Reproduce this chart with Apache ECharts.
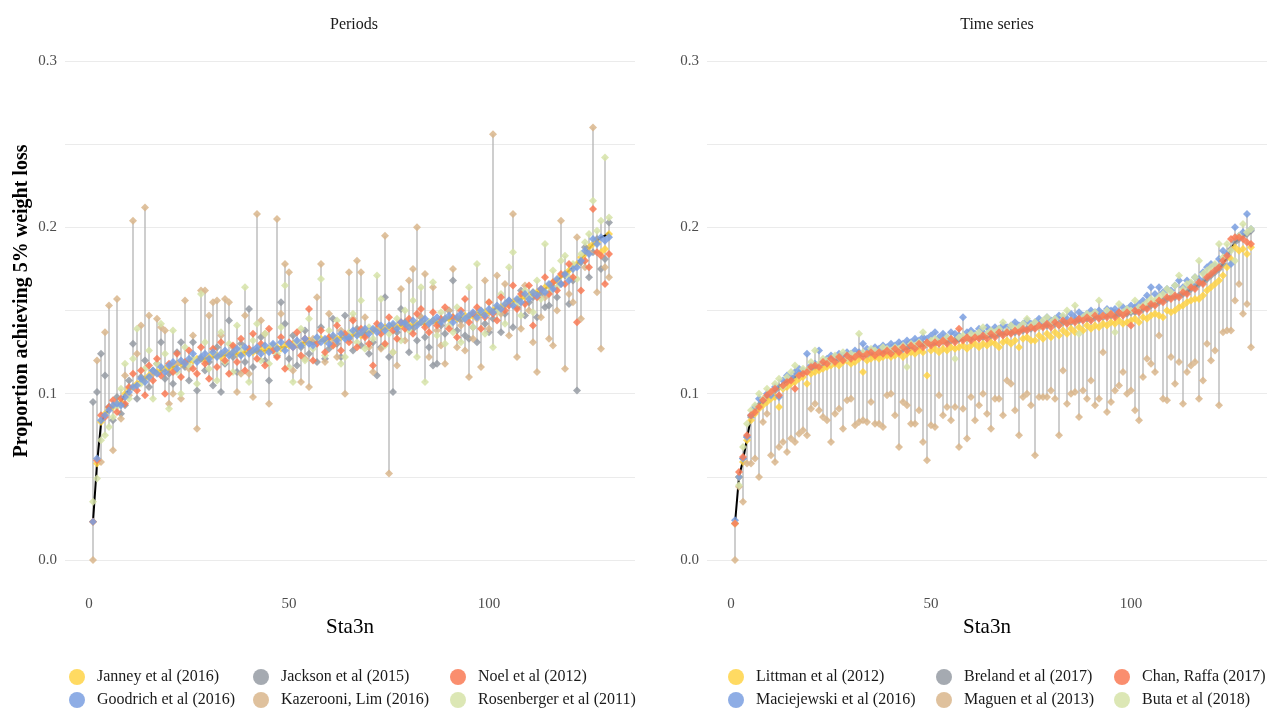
<!DOCTYPE html>
<html><head><meta charset="utf-8">
<script src="https://cdn.jsdelivr.net/npm/echarts@6/dist/echarts.min.js"></script>
<style>html,body{margin:0;padding:0;background:#fff}#c{width:1267px;height:708px}</style>
</head><body><div id="c"></div>
<script>
// ---------- DATA ----------
const stations = [];
for (let i = 1; i <= 130; i++) stations.push(i);
const xTickLabels = [0, 50, 100];
const yTickLabels = [0, 0.1, 0.2, 0.3];
const yGridValues = [0, 0.05, 0.1, 0.15, 0.2, 0.25, 0.3];
const panelTitles = ['Periods', 'Time series'];
const xAxisTitle = 'Sta3n';
const yAxisTitle = 'Proportion achieving 5% weight loss';

const periodsNames = ['Janney et al (2016)', 'Goodrich et al (2016)', 'Jackson et al (2015)', 'Kazerooni, Lim (2016)', 'Noel et al (2012)', 'Rosenberger et al (2011)'];
const timeNames = ['Littman et al (2012)', 'Maciejewski et al (2016)', 'Breland et al (2017)', 'Maguen et al (2013)', 'Chan, Raffa (2017)', 'Buta et al (2018)'];

// Periods panel
const periodsRef = [
0.023,0.058,0.082,0.088,0.090,0.092,0.093,0.095,0.100,0.102,
0.104,0.106,0.108,0.109,0.111,0.112,0.113,0.114,0.114,0.115,
0.116,0.117,0.118,0.118,0.119,0.120,0.120,0.121,0.121,0.122,
0.122,0.123,0.123,0.123,0.124,0.124,0.124,0.124,0.125,0.125,
0.125,0.126,0.126,0.126,0.127,0.127,0.128,0.128,0.128,0.129,
0.129,0.130,0.130,0.131,0.131,0.131,0.132,0.132,0.132,0.133,
0.133,0.133,0.134,0.134,0.135,0.135,0.136,0.136,0.137,0.137,
0.138,0.138,0.139,0.139,0.140,0.140,0.140,0.141,0.141,0.141,
0.141,0.142,0.142,0.142,0.143,0.143,0.143,0.144,0.144,0.145,
0.145,0.145,0.146,0.146,0.146,0.147,0.147,0.148,0.148,0.149,
0.150,0.151,0.152,0.153,0.154,0.155,0.156,0.157,0.158,0.159,
0.160,0.161,0.162,0.163,0.165,0.166,0.168,0.170,0.172,0.174,
0.176,0.178,0.181,0.184,0.187,0.190,0.192,0.194,0.195,0.197];
const janney2016 = [
0.023,0.058,0.083,0.088,0.091,0.092,0.094,0.095,0.100,0.103,
0.104,0.106,0.107,0.109,0.111,0.113,0.113,0.114,0.115,0.115,
0.116,0.118,0.118,0.117,0.119,0.120,0.121,0.121,0.120,0.122,
0.123,0.123,0.122,0.124,0.124,0.125,0.124,0.124,0.125,0.126,
0.125,0.126,0.127,0.126,0.127,0.128,0.128,0.127,0.129,0.129,
0.130,0.130,0.129,0.131,0.132,0.131,0.132,0.133,0.132,0.133,
0.134,0.133,0.134,0.135,0.135,0.136,0.136,0.135,0.137,0.138,
0.138,0.139,0.139,0.140,0.140,0.141,0.140,0.141,0.142,0.141,
0.142,0.142,0.143,0.142,0.143,0.144,0.143,0.144,0.145,0.145,
0.146,0.145,0.146,0.147,0.146,0.147,0.148,0.148,0.149,0.149,
0.150,0.152,0.152,0.153,0.155,0.155,0.156,0.158,0.158,0.159,
0.161,0.161,0.162,0.164,0.165,0.167,0.168,0.171,0.172,0.174,
0.177,0.178,0.182,0.184,0.188,0.190,0.191,0.185,0.187,0.196];
const goodrich2016 = [
0.023,0.061,0.084,0.087,0.090,0.093,0.094,0.093,0.098,0.101,
0.104,0.105,0.109,0.107,0.110,0.114,0.112,0.116,0.113,0.117,
0.119,0.115,0.120,0.118,0.121,0.124,0.119,0.122,0.124,0.121,
0.125,0.122,0.124,0.126,0.123,0.125,0.127,0.123,0.128,0.124,
0.126,0.128,0.124,0.129,0.125,0.130,0.127,0.131,0.126,0.130,
0.128,0.132,0.129,0.133,0.130,0.129,0.134,0.131,0.133,0.130,
0.135,0.132,0.136,0.133,0.134,0.138,0.135,0.137,0.139,0.136,
0.139,0.137,0.141,0.138,0.141,0.142,0.139,0.143,0.142,0.140,
0.144,0.141,0.143,0.145,0.142,0.144,0.146,0.143,0.145,0.147,
0.143,0.146,0.148,0.145,0.147,0.149,0.146,0.150,0.147,0.151,
0.149,0.153,0.151,0.154,0.156,0.153,0.157,0.155,0.160,0.157,
0.161,0.159,0.163,0.161,0.166,0.163,0.169,0.166,0.172,0.168,
0.175,0.176,0.180,0.186,0.184,0.193,0.190,0.194,0.192,0.194];
const jackson2015 = [
0.095,0.101,0.124,0.111,0.092,0.084,0.098,0.088,0.093,0.108,
0.130,0.097,0.110,0.120,0.104,0.114,0.118,0.131,0.109,0.112,
0.106,0.125,0.131,0.116,0.108,0.131,0.102,0.121,0.114,0.119,
0.105,0.128,0.101,0.118,0.144,0.122,0.113,0.130,0.119,0.151,
0.116,0.126,0.134,0.120,0.108,0.129,0.123,0.155,0.142,0.121,
0.135,0.117,0.128,0.138,0.124,0.131,0.119,0.140,0.121,0.127,
0.145,0.130,0.122,0.147,0.133,0.126,0.139,0.129,0.135,0.124,
0.131,0.111,0.128,0.158,0.122,0.101,0.137,0.151,0.143,0.125,
0.139,0.132,0.146,0.134,0.128,0.117,0.118,0.141,0.136,0.150,
0.168,0.138,0.144,0.135,0.133,0.140,0.131,0.149,0.142,0.137,
0.145,0.151,0.137,0.148,0.156,0.140,0.152,0.162,0.147,0.155,
0.158,0.146,0.160,0.152,0.153,0.164,0.158,0.166,0.171,0.154,
0.168,0.102,0.179,0.188,0.170,0.185,0.193,0.175,0.181,0.203];
const kazerooniLim2016 = [
0.000,0.120,0.059,0.137,0.153,0.066,0.157,0.085,0.111,0.099,
0.204,0.124,0.141,0.212,0.147,0.112,0.145,0.140,0.138,0.094,
0.100,0.118,0.097,0.156,0.115,0.135,0.079,0.162,0.162,0.147,
0.155,0.156,0.135,0.157,0.155,0.128,0.101,0.112,0.147,0.112,
0.098,0.208,0.144,0.136,0.094,0.126,0.205,0.148,0.178,0.173,
0.114,0.130,0.107,0.121,0.104,0.133,0.158,0.178,0.119,0.148,
0.131,0.122,0.138,0.100,0.173,0.145,0.180,0.173,0.146,0.128,
0.113,0.139,0.127,0.195,0.052,0.125,0.117,0.163,0.132,0.168,
0.175,0.200,0.146,0.172,0.122,0.164,0.138,0.129,0.118,0.150,
0.175,0.128,0.141,0.126,0.110,0.133,0.145,0.116,0.168,0.139,
0.256,0.171,0.148,0.166,0.135,0.208,0.122,0.139,0.165,0.150,
0.131,0.113,0.146,0.158,0.133,0.129,0.150,0.204,0.115,0.160,
0.155,0.194,0.145,0.176,0.185,0.260,0.161,0.127,0.176,0.170];
const noel2012 = [
0.023,0.060,0.087,0.086,0.092,0.096,0.089,0.097,0.094,0.104,
0.112,0.102,0.114,0.099,0.117,0.108,0.121,0.111,0.100,0.118,
0.113,0.124,0.110,0.119,0.126,0.115,0.112,0.128,0.118,0.109,
0.127,0.116,0.131,0.120,0.112,0.129,0.119,0.133,0.114,0.127,
0.136,0.121,0.130,0.117,0.139,0.126,0.122,0.134,0.115,0.131,
0.128,0.137,0.123,0.133,0.151,0.120,0.130,0.138,0.125,0.134,
0.129,0.141,0.126,0.136,0.131,0.144,0.128,0.139,0.134,0.130,
0.117,0.142,0.136,0.130,0.146,0.138,0.133,0.143,0.139,0.145,
0.136,0.148,0.151,0.140,0.137,0.149,0.141,0.145,0.152,0.139,
0.146,0.134,0.150,0.157,0.143,0.148,0.152,0.139,0.146,0.155,
0.148,0.144,0.158,0.150,0.153,0.165,0.151,0.160,0.154,0.165,
0.141,0.158,0.163,0.170,0.160,0.167,0.162,0.172,0.166,0.178,
0.170,0.143,0.162,0.180,0.176,0.211,0.185,0.183,0.166,0.184];
const rosenberger2011 = [
0.035,0.049,0.072,0.075,0.080,0.086,0.092,0.103,0.118,0.097,
0.121,0.139,0.106,0.115,0.126,0.097,0.118,0.142,0.124,0.091,
0.138,0.113,0.100,0.128,0.117,0.121,0.106,0.160,0.131,0.115,
0.125,0.108,0.137,0.119,0.130,0.113,0.141,0.127,0.164,0.107,
0.132,0.142,0.120,0.136,0.118,0.129,0.124,0.140,0.165,0.116,
0.107,0.131,0.139,0.120,0.145,0.127,0.133,0.169,0.123,0.138,
0.129,0.144,0.118,0.122,0.137,0.148,0.131,0.156,0.127,0.140,
0.133,0.171,0.157,0.129,0.136,0.125,0.145,0.132,0.150,0.138,
0.156,0.122,0.164,0.107,0.143,0.167,0.135,0.149,0.130,0.141,
0.137,0.152,0.131,0.145,0.164,0.140,0.178,0.150,0.136,0.155,
0.128,0.149,0.160,0.142,0.176,0.185,0.154,0.147,0.162,0.158,
0.149,0.168,0.157,0.190,0.161,0.174,0.164,0.180,0.183,0.170,
0.178,0.169,0.184,0.191,0.196,0.216,0.198,0.204,0.242,0.206];

// Time series panel
const timeRef = [
0.022,0.050,0.060,0.073,0.086,0.090,0.093,0.095,0.098,0.100,
0.102,0.104,0.106,0.108,0.109,0.110,0.112,0.113,0.114,0.115,
0.116,0.117,0.118,0.119,0.120,0.120,0.121,0.121,0.122,0.122,
0.122,0.123,0.123,0.123,0.124,0.124,0.124,0.125,0.125,0.125,
0.126,0.126,0.127,0.127,0.128,0.128,0.129,0.129,0.130,0.130,
0.130,0.131,0.131,0.131,0.132,0.132,0.132,0.133,0.133,0.133,
0.133,0.134,0.134,0.134,0.135,0.135,0.136,0.136,0.136,0.137,
0.137,0.138,0.138,0.139,0.139,0.140,0.140,0.141,0.141,0.142,
0.142,0.142,0.143,0.143,0.143,0.144,0.144,0.145,0.145,0.145,
0.146,0.146,0.146,0.147,0.147,0.147,0.148,0.148,0.148,0.149,
0.149,0.150,0.151,0.152,0.153,0.154,0.155,0.156,0.157,0.158,
0.158,0.159,0.160,0.161,0.163,0.164,0.166,0.167,0.169,0.171,
0.173,0.175,0.178,0.182,0.187,0.191,0.193,0.195,0.196,0.197];
const littman2012 = [
0.022,0.050,0.059,0.072,0.084,0.088,0.091,0.093,0.095,0.097,
0.098,0.092,0.103,0.104,0.106,0.107,0.109,0.110,0.106,0.112,
0.113,0.114,0.115,0.116,0.117,0.118,0.117,0.119,0.120,0.118,
0.119,0.121,0.113,0.120,0.121,0.122,0.121,0.122,0.123,0.122,
0.123,0.124,0.122,0.124,0.125,0.124,0.126,0.125,0.111,0.126,
0.127,0.125,0.127,0.126,0.128,0.127,0.128,0.129,0.127,0.129,
0.130,0.128,0.130,0.129,0.131,0.130,0.128,0.131,0.132,0.130,
0.132,0.128,0.133,0.134,0.132,0.132,0.135,0.133,0.136,0.134,
0.137,0.135,0.138,0.136,0.139,0.137,0.140,0.138,0.141,0.139,
0.141,0.140,0.142,0.141,0.143,0.142,0.144,0.142,0.143,0.144,
0.145,0.143,0.146,0.145,0.147,0.148,0.147,0.146,0.150,0.149,
0.150,0.152,0.153,0.155,0.156,0.157,0.157,0.159,0.162,0.164,
0.166,0.168,0.171,0.176,0.181,0.188,0.186,0.187,0.184,0.188];
const maciejewski2016 = [
0.024,0.050,0.061,0.074,0.087,0.092,0.097,0.096,0.100,0.099,
0.104,0.098,0.108,0.111,0.110,0.113,0.115,0.114,0.124,0.117,
0.118,0.126,0.119,0.121,0.123,0.122,0.124,0.123,0.125,0.124,
0.126,0.125,0.130,0.127,0.126,0.128,0.127,0.129,0.128,0.130,
0.129,0.131,0.130,0.132,0.131,0.133,0.132,0.134,0.133,0.135,
0.137,0.134,0.136,0.134,0.137,0.136,0.135,0.146,0.137,0.138,
0.136,0.139,0.137,0.140,0.138,0.140,0.139,0.141,0.140,0.141,
0.143,0.141,0.142,0.144,0.142,0.143,0.145,0.143,0.146,0.144,
0.145,0.147,0.146,0.145,0.148,0.146,0.149,0.147,0.148,0.150,
0.149,0.150,0.148,0.151,0.150,0.151,0.149,0.152,0.151,0.153,
0.152,0.154,0.156,0.159,0.164,0.160,0.164,0.161,0.163,0.162,
0.165,0.168,0.164,0.168,0.166,0.170,0.169,0.173,0.176,0.178,
0.177,0.181,0.186,0.184,0.178,0.200,0.195,0.197,0.208,0.199];
const breland2017 = [
0.022,0.050,0.061,0.074,0.086,0.091,0.093,0.095,0.098,0.100,
0.102,0.104,0.105,0.108,0.109,0.110,0.112,0.113,0.114,0.115,
0.116,0.117,0.118,0.119,0.120,0.121,0.121,0.122,0.122,0.122,
0.122,0.123,0.124,0.123,0.124,0.125,0.124,0.125,0.125,0.126,
0.126,0.126,0.127,0.128,0.128,0.128,0.129,0.130,0.130,0.130,
0.130,0.131,0.132,0.131,0.132,0.132,0.133,0.133,0.133,0.133,
0.134,0.134,0.134,0.135,0.135,0.135,0.136,0.136,0.137,0.137,
0.137,0.138,0.138,0.139,0.139,0.140,0.140,0.141,0.141,0.142,
0.142,0.142,0.143,0.143,0.143,0.144,0.144,0.145,0.145,0.145,
0.146,0.146,0.146,0.147,0.147,0.147,0.148,0.148,0.148,0.149,
0.149,0.150,0.151,0.152,0.153,0.154,0.155,0.156,0.157,0.158,
0.158,0.159,0.160,0.161,0.163,0.164,0.166,0.167,0.169,0.171,
0.173,0.175,0.178,0.182,0.187,0.191,0.193,0.195,0.196,0.198];
const maguen2013 = [
0.000,0.044,0.035,0.058,0.058,0.061,0.050,0.083,0.088,0.063,
0.059,0.068,0.071,0.065,0.073,0.071,0.076,0.078,0.075,0.091,
0.094,0.090,0.086,0.084,0.071,0.088,0.091,0.079,0.096,0.097,
0.081,0.083,0.084,0.083,0.095,0.082,0.082,0.080,0.099,0.100,
0.087,0.068,0.095,0.093,0.082,0.082,0.090,0.071,0.060,0.081,
0.080,0.099,0.087,0.092,0.084,0.092,0.068,0.091,0.073,0.098,
0.084,0.093,0.100,0.088,0.079,0.097,0.097,0.087,0.108,0.106,
0.090,0.075,0.098,0.100,0.093,0.063,0.098,0.098,0.098,0.102,
0.097,0.075,0.114,0.094,0.100,0.101,0.086,0.102,0.097,0.108,
0.093,0.097,0.125,0.089,0.095,0.102,0.105,0.113,0.100,0.102,
0.090,0.084,0.110,0.121,0.118,0.113,0.135,0.097,0.096,0.122,
0.106,0.119,0.094,0.113,0.117,0.119,0.097,0.108,0.130,0.120,
0.126,0.093,0.137,0.138,0.138,0.156,0.166,0.148,0.154,0.128];
const chanRaffa2017 = [
0.022,0.053,0.062,0.075,0.087,0.089,0.092,0.096,0.099,0.101,
0.103,0.099,0.105,0.107,0.108,0.103,0.111,0.112,0.113,0.116,
0.117,0.116,0.119,0.118,0.121,0.119,0.122,0.120,0.123,0.121,
0.122,0.124,0.122,0.124,0.125,0.123,0.125,0.124,0.126,0.124,
0.127,0.125,0.128,0.126,0.129,0.127,0.130,0.128,0.131,0.129,
0.131,0.130,0.132,0.130,0.133,0.131,0.139,0.132,0.134,0.132,
0.134,0.133,0.135,0.133,0.136,0.134,0.137,0.135,0.137,0.136,
0.138,0.137,0.139,0.138,0.140,0.139,0.141,0.140,0.142,0.140,
0.143,0.141,0.144,0.142,0.144,0.143,0.145,0.144,0.146,0.144,
0.147,0.145,0.147,0.146,0.148,0.146,0.149,0.147,0.149,0.141,
0.150,0.149,0.152,0.151,0.154,0.153,0.156,0.155,0.158,0.157,
0.159,0.158,0.161,0.160,0.164,0.163,0.167,0.166,0.170,0.172,
0.174,0.176,0.180,0.183,0.193,0.194,0.194,0.193,0.191,0.190];
const buta2018 = [
0.022,0.045,0.068,0.082,0.090,0.093,0.100,0.097,0.103,0.101,
0.106,0.109,0.104,0.110,0.113,0.117,0.111,0.115,0.114,0.119,
0.126,0.118,0.121,0.120,0.119,0.123,0.122,0.125,0.121,0.124,
0.123,0.136,0.125,0.124,0.127,0.126,0.125,0.128,0.127,0.126,
0.128,0.127,0.129,0.116,0.130,0.129,0.131,0.137,0.130,0.132,
0.133,0.131,0.132,0.134,0.133,0.121,0.134,0.135,0.133,0.136,
0.135,0.137,0.140,0.136,0.138,0.137,0.139,0.143,0.138,0.141,
0.139,0.140,0.142,0.145,0.141,0.143,0.140,0.144,0.146,0.143,
0.145,0.141,0.147,0.150,0.144,0.153,0.136,0.146,0.148,0.147,
0.149,0.156,0.147,0.150,0.148,0.137,0.154,0.149,0.151,0.150,
0.156,0.152,0.153,0.155,0.157,0.156,0.158,0.160,0.163,0.161,
0.165,0.171,0.163,0.166,0.167,0.170,0.180,0.172,0.174,0.176,
0.178,0.190,0.182,0.190,0.186,0.180,0.195,0.202,0.197,0.199];

// ---------- STYLE ----------
const FONT = '"Liberation Serif", "DejaVu Serif", serif';
const colors = ['#FFD447', '#7A9FE0', '#959BA3', '#D9B68C', '#F97A55', '#D6E3A8'];
const periodsSeries = [janney2016, goodrich2016, jackson2015, kazerooniLim2016, noel2012, rosenberger2011];
const timeSeries = [littman2012, maciejewski2016, breland2017, maguen2013, chanRaffa2017, buta2018];
const periodsDrawOrder = [0, 2, 3, 5, 4, 1];
const timeDrawOrder = [2, 0, 3, 1, 5, 4];

function pairs(arr) { return stations.map((s, i) => [s, arr[i]]); }
function ranges(list) {
  return stations.map((s, i) => {
    const v = list.map(a => a[i]);
    return [s, Math.min.apply(null, v), Math.max.apply(null, v)];
  });
}

const series = [];
function addPanel(gi, list, names, ref, order) {
  series.push({
    type: 'custom', xAxisIndex: gi, yAxisIndex: gi, silent: true, z: 1,
    encode: { x: 0, y: [1, 2] },
    data: ranges(list),
    renderItem: function (params, api) {
      const p1 = api.coord([api.value(0), api.value(1)]);
      const p2 = api.coord([api.value(0), api.value(2)]);
      return { type: 'line', shape: { x1: p1[0], y1: p1[1], x2: p2[0], y2: p2[1] },
        style: { stroke: '#b4b4b4', lineWidth: 1.3 } };
    }
  });
  series.push({
    type: 'line', xAxisIndex: gi, yAxisIndex: gi, z: 2, silent: true,
    data: pairs(ref), showSymbol: false, symbol: 'none',
    lineStyle: { color: '#000', width: 2 }
  });
  order.forEach(k => {
    series.push({
      type: 'scatter', name: names[k], xAxisIndex: gi, yAxisIndex: gi, z: 3,
      symbol: 'diamond', symbolSize: 8,
      itemStyle: { color: colors[k], opacity: 0.85 },
      data: pairs(list[k])
    });
  });
}
addPanel(0, periodsSeries, periodsNames, periodsRef, periodsDrawOrder);
addPanel(1, timeSeries, timeNames, timeRef, timeDrawOrder);

function xAxis(gi, max) {
  return {
    gridIndex: gi, type: 'value', min: -6, max: max,
    axisLine: { show: false }, axisTick: { show: false, customValues: xTickLabels },
    axisLabel: { customValues: xTickLabels, margin: 12, fontFamily: FONT, fontSize: 15, color: '#4d4d4d' },
    splitLine: { show: false },
    name: xAxisTitle, nameLocation: 'middle', nameGap: 30,
    nameTextStyle: { fontFamily: FONT, fontSize: 21, color: '#000' }
  };
}
function yAxis(gi) {
  return {
    gridIndex: gi, type: 'value', min: -0.015, max: 0.31,
    axisLine: { show: false }, axisTick: { show: false, customValues: yGridValues },
    axisLabel: { customValues: yTickLabels, margin: 8, fontFamily: FONT, fontSize: 15, color: '#4d4d4d',
      formatter: v => v.toFixed(1) },
    splitLine: { show: true, lineStyle: { color: '#ebebeb', width: 1.2 } }
  };
}

const legendCols0 = [69, 253, 450];
const legendCols1 = [728, 936, 1114];
const legendRows = [669, 692];
const legends = [];
function addLegends(names, cols) {
  names.forEach((n, k) => {
    const col = Math.floor(k / 2), row = k % 2;
    legends.push({
      data: [n], left: cols[col], top: legendRows[row], padding: 0,
      icon: 'circle', itemWidth: 30, itemHeight: 16, symbolKeepAspect: true,
      selectedMode: false,
      textStyle: { fontFamily: FONT, fontSize: 16, color: '#1a1a1a' }
    });
  });
}
addLegends(periodsNames, legendCols0);
addLegends(timeNames, legendCols1);

const chart = echarts.init(document.getElementById('c'), null, { renderer: 'canvas' });
chart.setOption({
  animation: false,
  backgroundColor: '#fff',
  title: [
    { text: panelTitles[0], left: 349, top: 12, textAlign: 'center',
      textStyle: { fontFamily: FONT, fontSize: 16, fontWeight: 'normal', color: '#1a1a1a' } },
    { text: panelTitles[1], left: 992, top: 12, textAlign: 'center',
      textStyle: { fontFamily: FONT, fontSize: 16, fontWeight: 'normal', color: '#1a1a1a' } }
  ],
  grid: [
    { left: 65, top: 44.4, width: 570, height: 540.6, containLabel: false },
    { left: 707, top: 44.4, width: 560, height: 540.6, containLabel: false }
  ],
  xAxis: [xAxis(0, 136.5), xAxis(1, 134)],
  yAxis: [yAxis(0), yAxis(1)],
  legend: legends,
  graphic: [{
    type: 'text', x: 22, y: 301, rotation: Math.PI / 2,
    style: { text: yAxisTitle, x: 0, y: 0, align: 'center', verticalAlign: 'middle',
      font: 'bold 20px ' + FONT, fill: '#000' }
  }],
  series: series
});
</script>
</body></html>
